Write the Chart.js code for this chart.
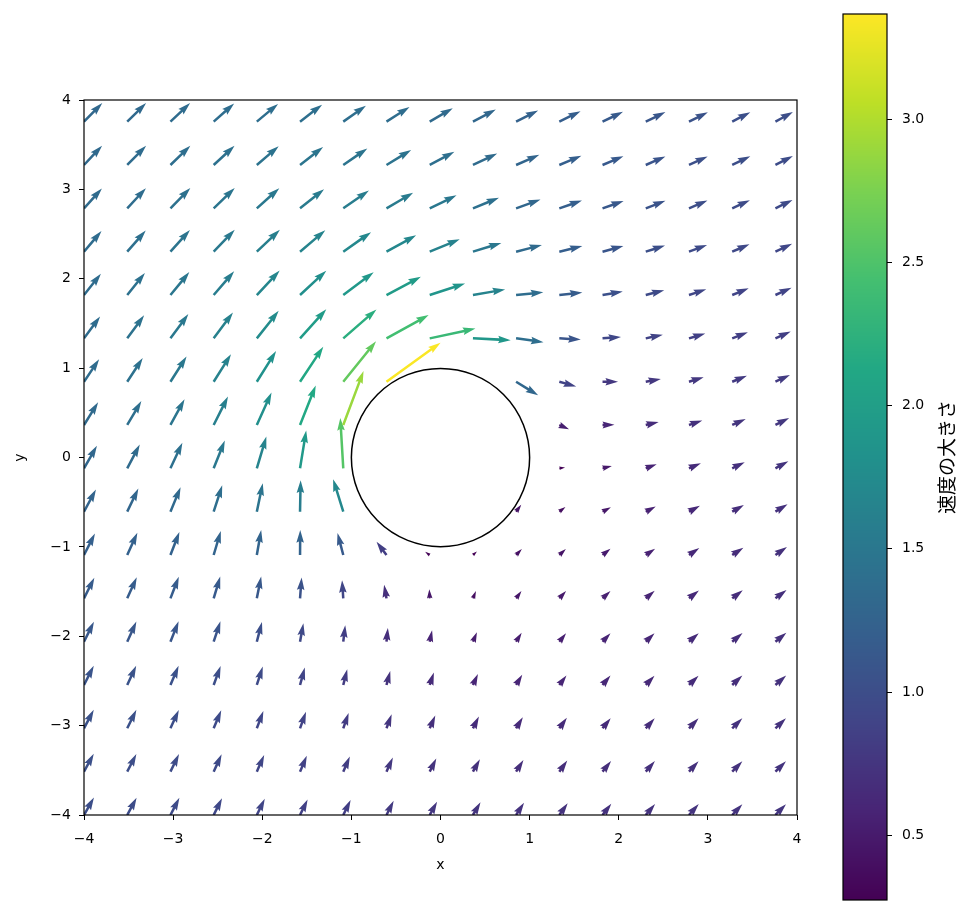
<!DOCTYPE html>
<html>
<head>
<meta charset="utf-8">
<script src="https://cdn.jsdelivr.net/npm/chart.js@4/dist/chart.umd.min.js"></script>
<style>
  html,body{margin:0;padding:0;background:#fff;}
  #wrap{position:relative;width:974px;height:915px;}
  #main{position:absolute;left:0;top:0;}
  #cbar{position:absolute;left:830px;top:0;}
</style>
</head>
<body>
<div id="wrap">
  <canvas id="main" width="830" height="915"></canvas>
  <canvas id="cbar" width="144" height="915"></canvas>
</div>
<script>
/* ---- data ---- */
// grid coordinates, same for x and y
const GRID = [-4.000,-3.515,-3.030,-2.545,-2.061,-1.576,-1.091,-0.606,-0.121,0.364,0.848,1.333,1.818,2.303,2.788,3.273,3.758];

// velocity x-component, one row per y value (bottom row first); null = inside the cylinder
const U = [
  [0.50,0.47,0.45,0.42,0.40,0.38,0.37,0.36,0.37,0.38,0.40,0.42,0.44,0.47,0.49,0.51,0.53],
  [0.49,0.46,0.43,0.40,0.37,0.34,0.33,0.32,0.33,0.35,0.37,0.40,0.43,0.46,0.48,0.51,0.53],
  [0.49,0.46,0.42,0.38,0.33,0.30,0.27,0.26,0.28,0.30,0.34,0.38,0.41,0.45,0.48,0.51,0.53],
  [0.49,0.45,0.41,0.35,0.30,0.24,0.20,0.19,0.21,0.25,0.31,0.36,0.40,0.44,0.48,0.51,0.54],
  [0.50,0.46,0.41,0.34,0.26,0.17,0.10,0.07,0.12,0.20,0.28,0.34,0.40,0.44,0.49,0.52,0.55],
  [0.52,0.48,0.42,0.33,0.22,0.08,-0.06,-0.12,-0.02,0.15,0.27,0.34,0.40,0.45,0.50,0.53,0.56],
  [0.55,0.51,0.45,0.36,0.22,0.01,-0.29,-0.50,-0.23,0.20,0.29,0.33,0.40,0.47,0.52,0.56,0.58],
  [0.60,0.56,0.51,0.43,0.30,0.03,-0.51,null,null,null,0.26,0.31,0.42,0.50,0.55,0.59,0.61],
  [0.65,0.63,0.60,0.56,0.48,0.31,-0.15,null,null,null,null,0.29,0.47,0.55,0.60,0.63,0.65],
  [0.71,0.71,0.71,0.72,0.74,0.79,1.02,null,null,null,null,0.49,0.60,0.65,0.67,0.68,0.69],
  [0.76,0.78,0.81,0.87,0.97,1.17,1.65,2.72,null,null,1.11,0.85,0.78,0.76,0.74,0.74,0.73],
  [0.81,0.85,0.90,0.97,1.10,1.32,1.67,2.12,2.30,1.90,1.38,1.08,0.93,0.86,0.82,0.79,0.77],
  [0.85,0.89,0.95,1.03,1.15,1.32,1.53,1.73,1.78,1.62,1.37,1.16,1.02,0.93,0.87,0.83,0.81],
  [0.88,0.93,0.98,1.06,1.16,1.27,1.40,1.49,1.51,1.43,1.30,1.16,1.05,0.97,0.91,0.87,0.84],
  [0.90,0.94,1.00,1.06,1.13,1.21,1.29,1.34,1.35,1.31,1.23,1.14,1.06,0.99,0.93,0.89,0.86],
  [0.91,0.95,1.00,1.05,1.10,1.16,1.21,1.24,1.24,1.22,1.17,1.11,1.05,0.99,0.94,0.91,0.88],
  [0.92,0.95,0.99,1.03,1.07,1.11,1.14,1.16,1.16,1.15,1.11,1.07,1.03,0.99,0.95,0.91,0.88]
];

// velocity y-component, same layout
const V = [
  [0.88,0.87,0.86,0.84,0.81,0.78,0.75,0.71,0.67,0.64,0.61,0.59,0.57,0.55,0.55,0.54,0.54],
  [0.90,0.89,0.88,0.87,0.84,0.80,0.76,0.71,0.66,0.62,0.58,0.56,0.54,0.53,0.52,0.52,0.52],
  [0.93,0.93,0.92,0.90,0.87,0.83,0.77,0.71,0.64,0.59,0.55,0.53,0.51,0.50,0.50,0.50,0.50],
  [0.96,0.97,0.96,0.95,0.92,0.87,0.79,0.70,0.62,0.55,0.51,0.48,0.47,0.46,0.46,0.47,0.47],
  [1.00,1.01,1.02,1.02,0.99,0.93,0.83,0.69,0.57,0.48,0.45,0.43,0.42,0.42,0.43,0.44,0.45],
  [1.04,1.06,1.09,1.10,1.10,1.05,0.91,0.68,0.46,0.37,0.37,0.37,0.37,0.38,0.39,0.41,0.42],
  [1.08,1.12,1.16,1.21,1.25,1.25,1.11,0.67,0.16,0.18,0.30,0.30,0.31,0.32,0.35,0.37,0.40],
  [1.11,1.16,1.23,1.32,1.43,1.57,1.63,null,null,null,0.35,0.23,0.22,0.26,0.30,0.34,0.37],
  [1.13,1.19,1.28,1.40,1.59,1.90,2.53,null,null,null,null,0.04,0.11,0.20,0.26,0.31,0.36],
  [1.14,1.20,1.29,1.43,1.63,1.98,2.71,null,null,null,null,-0.22,0.01,0.15,0.23,0.30,0.35],
  [1.13,1.19,1.27,1.38,1.54,1.76,2.03,1.96,null,null,-0.68,-0.24,0.00,0.14,0.23,0.30,0.34],
  [1.10,1.16,1.22,1.30,1.38,1.46,1.45,1.17,0.49,-0.09,-0.19,-0.06,0.07,0.18,0.25,0.31,0.35],
  [1.07,1.11,1.15,1.19,1.23,1.22,1.14,0.92,0.58,0.28,0.14,0.13,0.18,0.24,0.29,0.34,0.37],
  [1.04,1.06,1.09,1.10,1.10,1.07,0.98,0.82,0.62,0.44,0.33,0.28,0.29,0.31,0.34,0.37,0.40],
  [1.00,1.01,1.02,1.02,1.01,0.96,0.89,0.78,0.65,0.53,0.44,0.39,0.37,0.38,0.39,0.41,0.42],
  [0.97,0.97,0.97,0.96,0.94,0.90,0.83,0.75,0.66,0.58,0.51,0.46,0.44,0.43,0.43,0.44,0.45],
  [0.93,0.93,0.93,0.91,0.89,0.85,0.80,0.74,0.67,0.61,0.56,0.52,0.49,0.48,0.47,0.47,0.48]
];

const AXIS_TICKS = [-4,-3,-2,-1,0,1,2,3,4];
const CB_TICKS = [0.5,1.0,1.5,2.0,2.5,3.0];
const CB_MIN = 0.274, CB_MAX = 3.367;   // colour bar range
const CYL_R = 1;                        // cylinder radius
const CB_LABEL = '速度の大きさ';

/* ---- styling ---- */
const VIRIDIS = ['#440154','#482475','#414487','#355f8d','#2a788e','#21918c','#22a884','#44bf70','#7ad151','#bddf26','#fde725'];
const ARROW_SCALE = 0.223;  // data units per unit of speed
const SHAFT = 2.52;         // shaft width, px
const FONT = 'DejaVu Sans';
Chart.defaults.font.family = FONT;
Chart.defaults.color = '#000';

const hex = h => [1,3,5].map(i=>parseInt(h.substr(i,2),16));
const VIR_RGB = VIRIDIS.map(hex);
function viridis(t){
  t = Math.max(0, Math.min(1, t));
  const f = t*(VIR_RGB.length-1), i = Math.min(Math.floor(f), VIR_RGB.length-2), k = f-i;
  const a = VIR_RGB[i], b = VIR_RGB[i+1];
  return 'rgb(' + a.map((c,n)=>Math.round(c+(b[n]-c)*k)).join(',') + ')';
}
const minus = v => (v<0?'\u2212':'') + Math.abs(v);

// points for the quiver
const pts = [];
GRID.forEach((y,j)=>GRID.forEach((x,i)=>{
  const u=U[j][i], v=V[j][i];
  if(u==null || v==null) return;
  pts.push({x, y, u, v, m:Math.hypot(u,v)});
}));

// matplotlib-style arrow polygon, lengths in shaft widths
function arrow(ctx, x0, y0, x1, y1, color){
  const dx=x1-x0, dy=y1-y0, len=Math.hypot(dx,dy);
  if(len<=0) return;
  const L=len/SHAFT, cx=dx/len, cy=dy/len, nx=-cy, ny=cx;
  let poly;
  if(L>=5) poly=[[0,.5],[L-4.5,.5],[L-5,1.5],[L,0],[L-5,-1.5],[L-4.5,-.5],[0,-.5]];
  else { const s=L/5; poly=[[0,.5],[.5,.5],[0,1.5],[5,0],[0,-1.5],[.5,-.5],[0,-.5]].map(([a,b])=>[a*s,b*s]); }
  ctx.beginPath();
  poly.forEach(([a,b],n)=>{
    const px=x0+(cx*a+nx*b)*SHAFT, py=y0+(cy*a+ny*b)*SHAFT;
    n ? ctx.lineTo(px,py) : ctx.moveTo(px,py);
  });
  ctx.closePath();
  ctx.fillStyle=color; ctx.fill();
}

const quiverPlugin = {
  id:'quiver',
  afterDatasetsDraw(chart){
    const {ctx, chartArea:a, scales:{x, y}} = chart;
    ctx.save();
    ctx.beginPath(); ctx.rect(a.left, a.top, a.right-a.left, a.bottom-a.top); ctx.clip();
    chart.data.datasets[0].data.forEach(p=>{
      const x0=x.getPixelForValue(p.x), y0=y.getPixelForValue(p.y);
      const x1=x.getPixelForValue(p.x+p.u*ARROW_SCALE), y1=y.getPixelForValue(p.y+p.v*ARROW_SCALE);
      arrow(ctx, x0, y0, x1, y1, viridis((p.m-CB_MIN)/(CB_MAX-CB_MIN)));
    });
    // cylinder outline
    const cx=x.getPixelForValue(0), cy=y.getPixelForValue(0), r=x.getPixelForValue(CYL_R)-cx;
    ctx.beginPath(); ctx.arc(cx, cy, r, 0, Math.PI*2);
    ctx.lineWidth=1.5; ctx.strokeStyle='#000'; ctx.stroke();
    ctx.restore();
  },
  afterDraw(chart){
    const {ctx, chartArea:a} = chart;
    ctx.save(); ctx.lineWidth=1.2; ctx.strokeStyle='#000';
    ctx.strokeRect(a.left, a.top, a.right-a.left, a.bottom-a.top);
    ctx.restore();
  }
};

const axisTicks = s => { s.ticks = AXIS_TICKS.map(v=>({value:v})); };

new Chart(document.getElementById('main'), {
  type:'scatter',
  data:{datasets:[{data:pts, pointRadius:0, pointHoverRadius:0}]},
  options:{
    responsive:false, animation:false, devicePixelRatio:1, events:[],
    layout:{padding:{top:100, right:33, left:0, bottom:0}},
    plugins:{legend:{display:false}, tooltip:{enabled:false}},
    scales:{
      x:{type:'linear', min:-4, max:4, afterBuildTicks:axisTicks, afterFit:s=>{s.height=100;},
         ticks:{callback:minus, font:{size:14}, padding:11, maxRotation:0, color:'#000'},
         grid:{drawOnChartArea:false, tickLength:5, color:'#000'}, border:{display:false},
         title:{display:true, text:'x', font:{size:14}, color:'#000', padding:{top:0, bottom:41}}},
      y:{type:'linear', min:-4, max:4, afterBuildTicks:axisTicks, afterFit:s=>{s.width=84;},
         ticks:{callback:minus, font:{size:14}, padding:8, color:'#000'},
         grid:{drawOnChartArea:false, tickLength:5, color:'#000'}, border:{display:false},
         title:{display:true, text:'y', font:{size:14}, color:'#000', padding:{top:12, bottom:0}}}
    }
  },
  plugins:[quiverPlugin]
});

/* ---- colour bar ---- */
const cbarPlugin = {
  id:'cbar',
  beforeDatasetsDraw(chart){
    const {ctx, chartArea:a, scales:{y}} = chart;
    for(let py=Math.floor(a.top); py<Math.ceil(a.bottom); py++){
      const val=y.getValueForPixel(py+0.5);
      ctx.fillStyle=viridis((val-CB_MIN)/(CB_MAX-CB_MIN));
      ctx.fillRect(a.left, py, a.right-a.left, 1);
    }
  },
  afterDraw(chart){
    const {ctx, chartArea:a} = chart;
    ctx.save(); ctx.lineWidth=1.2; ctx.strokeStyle='#000';
    ctx.strokeRect(a.left, a.top, a.right-a.left, a.bottom-a.top);
    ctx.translate(117, (a.top+a.bottom)/2);
    ctx.rotate(-Math.PI/2);
    ctx.font='19px "Noto Sans CJK JP"';
    ctx.fillStyle='#000'; ctx.textAlign='center'; ctx.textBaseline='middle';
    ctx.fillText(CB_LABEL, 0, 0);
    ctx.restore();
  }
};

new Chart(document.getElementById('cbar'), {
  type:'scatter',
  data:{datasets:[{data:[], pointRadius:0}]},
  options:{
    responsive:false, animation:false, devicePixelRatio:1, events:[],
    layout:{padding:{top:14, right:0, left:13, bottom:15}},
    plugins:{legend:{display:false}, tooltip:{enabled:false}},
    scales:{
      x:{type:'linear', min:0, max:1, display:false},
      y:{type:'linear', position:'right', min:CB_MIN, max:CB_MAX,
         afterBuildTicks:s=>{ s.ticks=CB_TICKS.map(v=>({value:v})); },
         afterFit:s=>{ s.width=87; s.paddingTop=0; s.paddingBottom=0; },
         ticks:{callback:v=>v.toFixed(1), font:{size:14}, padding:10, color:'#000'},
         grid:{drawOnChartArea:false, tickLength:5, color:'#000'}, border:{display:false}}
    }
  },
  plugins:[cbarPlugin]
});
</script>
</body>
</html>
